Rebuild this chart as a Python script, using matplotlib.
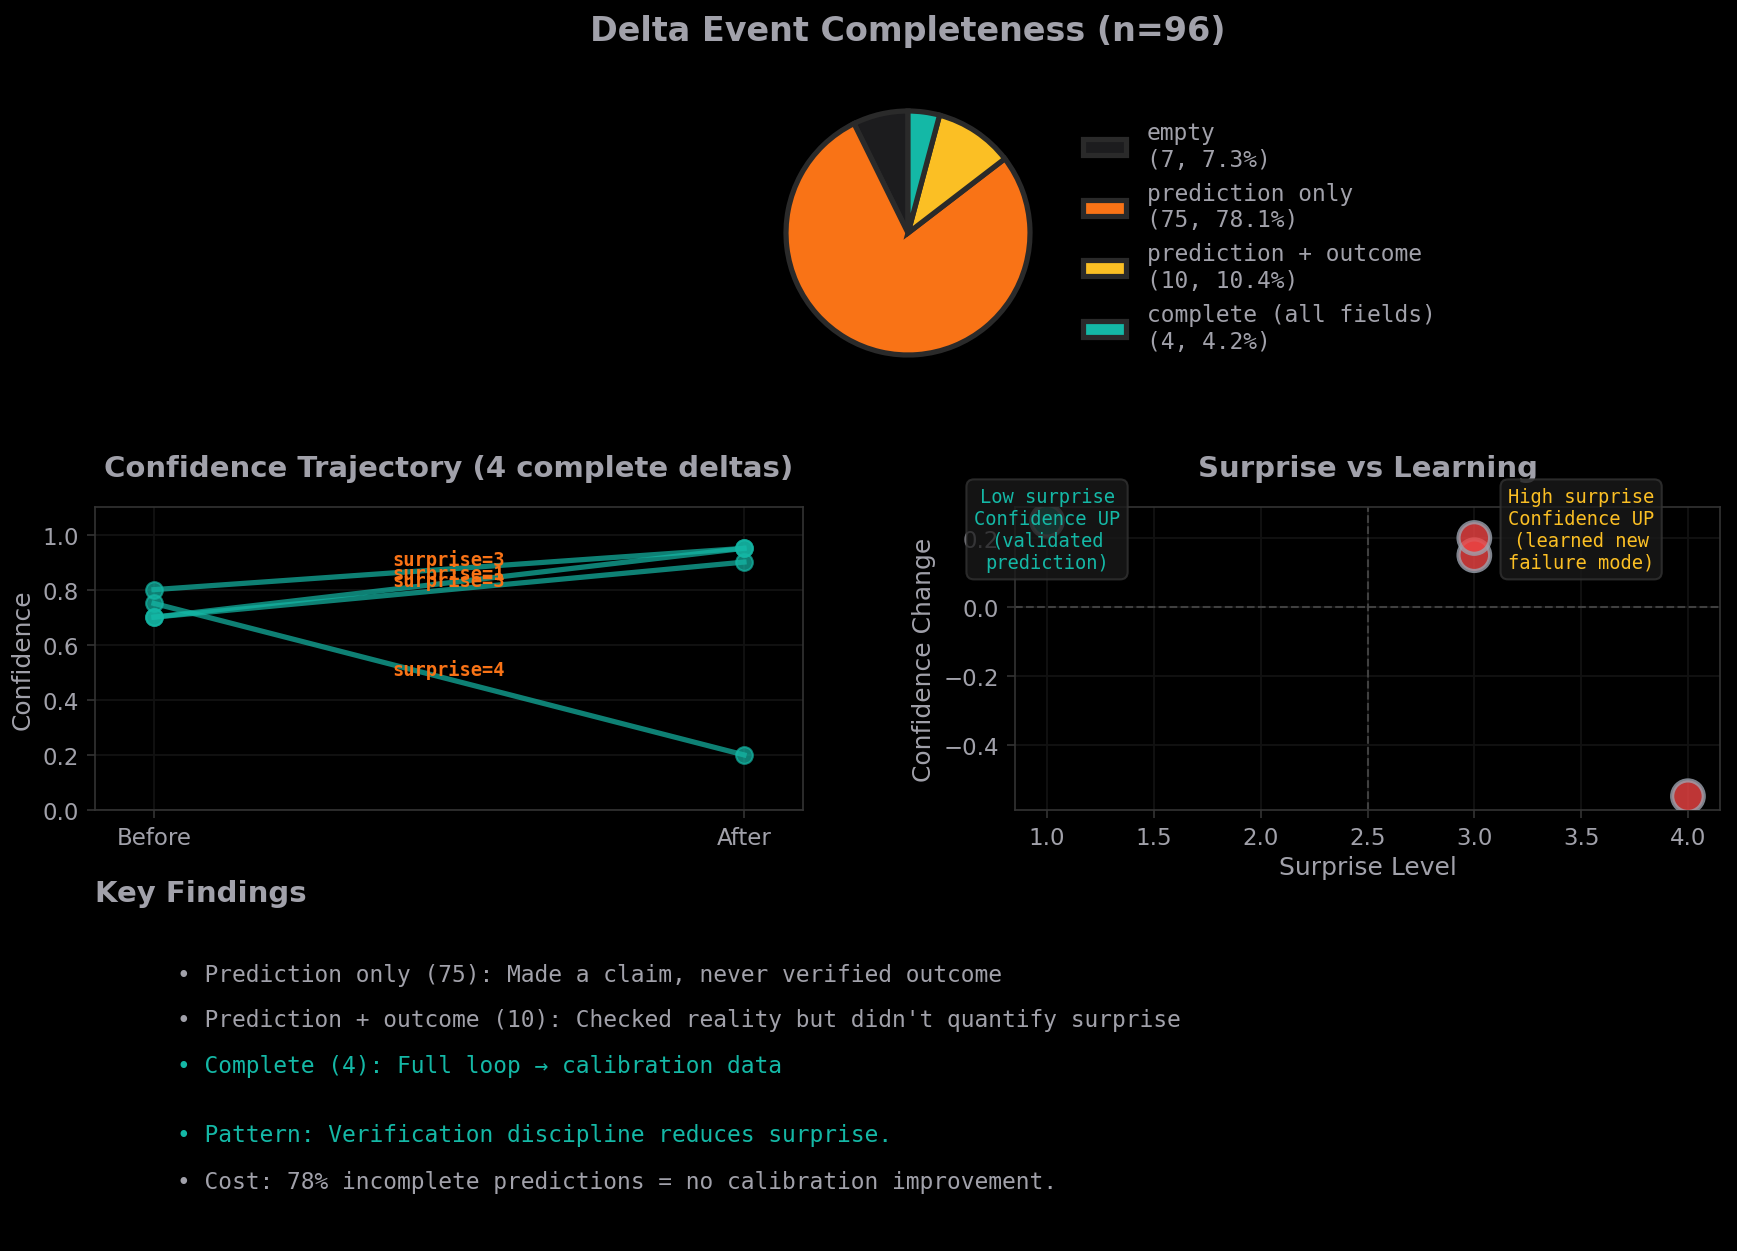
import matplotlib
matplotlib.use("Agg")
import matplotlib.pyplot as plt
import numpy as np

# figure is 1737x1252 px at 150 dpi
W, H = 1737, 1252
DPI = 150

TXT = '#a1a1aa'
TEAL = '#14b8a6'
ORANGE = '#f97316'
YELLOW = '#fbbf24'
RED = '#ef4444'
SPINE = '#333333'
GRID = '#121212'

# pie data
pie_labels = ['empty', 'prediction only', 'prediction + outcome', 'complete (all fields)']
pie_counts = [7, 75, 10, 4]
pie_colors = ['#1c1c1e', ORANGE, YELLOW, TEAL]

# complete deltas
conf_before = [0.80, 0.70, 0.70, 0.75]
conf_after = [0.95, 0.95, 0.90, 0.20]
surprise = [3, 1, 3, 4]

findings = [
    ("\u2022 Prediction only (75): Made a claim, never verified outcome", TXT),
    ("\u2022 Prediction + outcome (10): Checked reality but didn't quantify surprise", TXT),
    ("\u2022 Complete (4): Full loop \u2192 calibration data", TEAL),
    ("\u2022 Pattern: Verification discipline reduces surprise.", TEAL),
    ("\u2022 Cost: 78% incomplete predictions = no calibration improvement.", TXT),
]
findings_y = [976, 1021, 1067, 1136, 1183]

MONO = 'DejaVu Sans Mono'


def px_axes(x0, y0, x1, y1):
    # pixel box (top-left origin) -> figure fraction rect
    return [x0 / W, 1 - y1 / H, (x1 - x0) / W, (y1 - y0) / H]


plt.rcParams['text.color'] = TXT
plt.rcParams['axes.labelcolor'] = TXT
plt.rcParams['xtick.color'] = TXT
plt.rcParams['ytick.color'] = TXT
plt.rcParams['xtick.labelsize'] = 11
plt.rcParams['ytick.labelsize'] = 11

fig = plt.figure(figsize=(W / DPI, H / DPI), dpi=DPI, facecolor='black')

fig.text(908 / W, 1 - 32 / H, 'Delta Event Completeness (n=96)', fontsize=16,
         fontweight='bold', color=TXT, ha='center', va='center')

# pie
cx, cy, r = 908, 234, 122
half = 1.25 * r
ax_pie = fig.add_axes(px_axes(cx - half, cy - half, cx + half, cy + half))
ax_pie.set_facecolor('black')
total = sum(pie_counts)
wedges, _ = ax_pie.pie(pie_counts, colors=pie_colors, startangle=90,
                       wedgeprops=dict(edgecolor='#2a2a2a', linewidth=2.5))
ax_pie.set_aspect('equal')
leg_labels = [f'{l}\n({c}, {c / total * 100:.1f}%)' for l, c in zip(pie_labels, pie_counts)]
leg = fig.legend(wedges, leg_labels, loc='center left',
                 bbox_to_anchor=(1062 / W, 1 - 238 / H), bbox_transform=fig.transFigure,
                 frameon=False, prop=dict(family=MONO, size=11),
                 labelspacing=0.48, handlelength=1.9, handletextpad=0.9)
for t in leg.get_texts():
    t.set_color(TXT)


def style(ax):
    ax.set_facecolor('black')
    for s in ax.spines.values():
        s.set_color(SPINE)
    ax.tick_params(colors=TXT, length=4)
    ax.tick_params(axis='both', color=SPINE)
    ax.grid(True, color=GRID, linewidth=0.9)
    ax.set_axisbelow(True)


# trajectory
ax1 = fig.add_axes(px_axes(95, 508, 803, 811))
style(ax1)
for b, a, s in zip(conf_before, conf_after, surprise):
    ax1.plot([0, 1], [b, a], '-o', color=TEAL, alpha=0.7, linewidth=2.5, markersize=8)
    ax1.text(0.5, (b + a) / 2, f'surprise={s}', color=ORANGE, fontsize=9,
             fontweight='bold', family=MONO, ha='center', va='bottom')
ax1.set_xlim(-0.1, 1.1)
ax1.set_ylim(0, 1.1)
ax1.set_xticks([0, 1])
ax1.set_xticklabels(['Before', 'After'])
ax1.set_yticks(np.arange(0, 1.01, 0.2))
ax1.set_ylabel('Confidence', fontsize=12)
ax1.set_title('Confidence Trajectory (4 complete deltas)', fontsize=14,
              fontweight='bold', color=TXT, pad=15)

# surprise vs learning
ax2 = fig.add_axes(px_axes(1015, 508, 1720, 811))
style(ax2)
change = [a - b for a, b in zip(conf_after, conf_before)]
pt_colors = [TEAL if s <= 2 else RED for s in surprise]
ax2.scatter(surprise, change, s=230, c=pt_colors, alpha=0.8,
            edgecolors='#9ca3af', linewidths=2, zorder=3)
ax2.axhline(0, color='#555555', linestyle='--', linewidth=1, alpha=0.7, zorder=2)
ax2.axvline(2.5, color='#555555', linestyle='--', linewidth=1, alpha=0.7, zorder=2)
ax2.set_xlabel('Surprise Level', fontsize=12, labelpad=3)
ax2.set_ylabel('Confidence Change', fontsize=12)
ax2.set_title('Surprise vs Learning', fontsize=14, fontweight='bold', color=TXT, pad=15)
box = dict(boxstyle='round,pad=0.4', facecolor='#1a1a1a', edgecolor='#333333', alpha=0.8)
ax2.text(1.0, 0.225, 'Low surprise\nConfidence UP\n(validated\nprediction)', color=TEAL,
         fontsize=9, family=MONO, ha='center', va='center', bbox=box, zorder=5)
ax2.text(3.5, 0.225, 'High surprise\nConfidence UP\n(learned new\nfailure mode)', color=YELLOW,
         fontsize=9, family=MONO, ha='center', va='center', bbox=box, zorder=5)

# key findings
fig.text(95 / W, 1 - 894 / H, 'Key Findings', fontsize=14, fontweight='bold',
         color=TXT, ha='left', va='center')
for (line, col), yy in zip(findings, findings_y):
    fig.text(177 / W, 1 - yy / H, line, fontsize=11, family=MONO, color=col,
             ha='left', va='center')

fig.savefig('out.png', dpi=DPI, facecolor='black')
